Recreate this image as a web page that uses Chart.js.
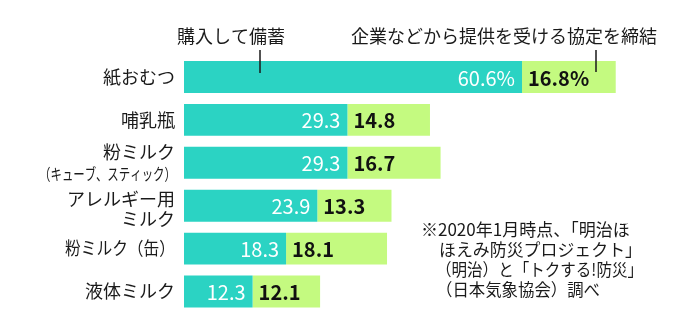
<!DOCTYPE html>
<html><head><meta charset="utf-8">
<script src="https://cdn.jsdelivr.net/npm/chart.js@4/dist/chart.umd.min.js"></script>
<style>html,body{margin:0;padding:0;background:#fff;}#wrap{width:700px;height:332px;}</style>
</head><body><div id="wrap"><canvas id="c" width="700" height="332"></canvas></div>
<script>
const categories = [["紙おむつ"],["哺乳瓶"],["粉ミルク","（キューブ、スティック）"],["アレルギー用","ミルク"],["粉ミルク（缶）"],["液体ミルク"]];
const seriesNames = ["購入して備蓄","企業などから提供を受ける協定を締結"];
const purchased = [60.6, 29.3, 29.3, 23.9, 18.3, 12.3];
const agreement = [16.8, 14.8, 16.7, 13.3, 18.1, 12.1];
const purchasedLabels = ["60.6%","29.3","29.3","23.9","18.3","12.3"];
const agreementLabels = ["16.8%","14.8","16.7","13.3","18.1","12.1"];
const noteLines = ["※2020年1月時点、「明治ほ","ほえみ防災プロジェクト」","（明治）と「トクする!防災」","（日本気象協会）調べ"];

const TEAL = "rgb(43,211,195)";
const GREEN = "rgb(196,250,128)";
const JP = '"Noto Sans CJK JP", "Noto Sans", sans-serif';

function fitText(ctx, text, x, y, maxW, align) {
  const w = ctx.measureText(text).width;
  const s = w > maxW ? maxW / w : 1;
  ctx.save();
  ctx.translate(x, y);
  ctx.scale(s, 1);
  ctx.textAlign = align;
  ctx.fillText(text, 0, 0);
  ctx.restore();
}

const overlay = {
  id: 'overlay',
  afterDatasetsDraw(chart) {
    const ctx = chart.ctx;
    const xs = chart.scales.x, ys = chart.scales.y;
    ctx.save();
    const m0 = chart.getDatasetMeta(0), m1 = chart.getDatasetMeta(1);
    ctx.textBaseline = 'middle';
    m0.data.forEach((el, i) => {
      ctx.font = '20px ' + JP;
      ctx.fillStyle = '#fff';
      ctx.textAlign = 'right';
      ctx.fillText(purchasedLabels[i], el.x - 7, el.y + 1);
    });
    m1.data.forEach((el, i) => {
      ctx.font = 'bold 20px ' + JP;
      ctx.fillStyle = '#111';
      ctx.textAlign = 'left';
      ctx.fillText(agreementLabels[i], el.base + 6, el.y + 1);
    });
    ctx.fillStyle = '#1a1a1a';
    const lx = xs.left - 9;
    categories.forEach((lines, i) => {
      const cy = ys.getPixelForValue(i);
      if (lines.length === 1) {
        ctx.font = '18px ' + JP;
        fitText(ctx, lines[0], lx, cy, lines[0].includes('（') ? 110 : 200, 'right');
      } else if (lines[1].startsWith('（')) {
        ctx.font = '18px ' + JP;
        ctx.textAlign = 'right';
        ctx.fillText(lines[0], lx, cy - 11);
        ctx.font = '16px ' + JP;
        fitText(ctx, lines[1], lx + 1, cy + 11, 137, 'right');
      } else {
        ctx.font = '18px ' + JP;
        ctx.textAlign = 'right';
        ctx.fillText(lines[0], lx, cy - 7);
        ctx.fillText(lines[1], lx, cy + 13);
      }
    });
    ctx.font = '18px ' + JP;
    ctx.fillStyle = '#1a1a1a';
    ctx.textAlign = 'center';
    ctx.fillText(seriesNames[0], 231, 36);
    fitText(ctx, seriesNames[1], 504, 36, 310, 'center');
    ctx.strokeStyle = '#1a1a1a';
    ctx.lineWidth = 1.5;
    ctx.beginPath();
    ctx.moveTo(260, 50); ctx.lineTo(260, 73);
    ctx.moveTo(596, 50); ctx.lineTo(596, 72);
    ctx.stroke();
    ctx.font = '17px ' + JP;
    ctx.fillStyle = '#1a1a1a';
    const noteX = [421, 439, 436, 436];
    const noteW = [218, 203, 207, 164];
    noteLines.forEach((t, k) => fitText(ctx, t, noteX[k], 230 + 20 * k, noteW[k], 'left'));
    ctx.restore();
  }
};

new Chart(document.getElementById('c'), {
  type: 'bar',
  data: {
    labels: categories.map(l => l.join('')),
    datasets: [
      { label: seriesNames[0], data: purchased, backgroundColor: TEAL, borderWidth: 0 },
      { label: seriesNames[1], data: agreement, backgroundColor: GREEN, borderWidth: 0 }
    ]
  },
  options: {
    indexAxis: 'y',
    responsive: false,
    animation: false,
    layout: { padding: { left: 184, right: 14, top: 55.5, bottom: 19 } },
    datasets: { bar: { categoryPercentage: 1, barPercentage: 0.745 } },
    scales: {
      x: { stacked: true, display: false, min: 0, max: 90 },
      y: { stacked: true, display: false }
    },
    plugins: { legend: { display: false }, tooltip: { enabled: false } }
  },
  plugins: [overlay]
});
</script>
</body></html>
